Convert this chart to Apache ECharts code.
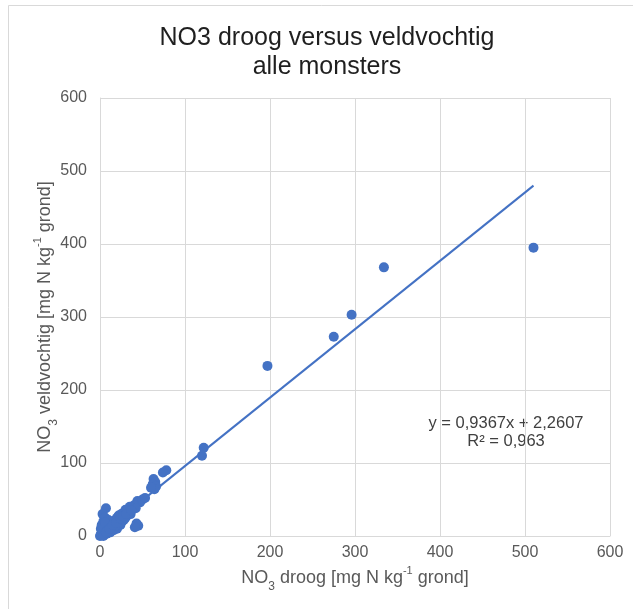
<!DOCTYPE html>
<html>
<head>
<meta charset="utf-8">
<script src="https://cdn.jsdelivr.net/npm/echarts@6/dist/echarts.min.js"></script>
<style>
html,body{margin:0;padding:0;background:#fff;}
#chart{width:633px;height:609px;}
</style>
</head>
<body>
<div id="chart"></div>
<script>
// ---- data ----
var titleText = 'NO3 droog versus veldvochtig\nalle monsters';
var xTicks = [0, 100, 200, 300, 400, 500, 600];
var yTicks = [0, 100, 200, 300, 400, 500, 600];
var droog = [510, 334, 296, 275, 197, 122, 120, 78, 74, 63, 65, 62, 66, 64, 60, 47, 44, 43, 45, 41, 7, 3,
  40, 38, 35, 33, 30, 28, 25, 22, 20, 18, 15, 12, 10, 8, 5, 3, 2, 1, 0, 2, 4, 6, 10, 14, 16, 20, 24, 26,
  30, 32, 36, 12, 8, 5, 2, 1, 3, 6, 9, 18, 22, 28, 35, 42, 4, 7, 11, 15, 19, 24, 27, 31, 37, 50, 53];
var veldvochtig = [395, 368, 303, 273, 233, 121, 110, 90, 87, 78, 74, 71, 68, 64, 66, 46, 48, 17, 14, 12, 38, 30,
  42, 38, 40, 35, 36, 32, 30, 28, 25, 22, 20, 18, 15, 12, 10, 8, 5, 2, 0, 15, 20, 25, 22, 12, 8, 10, 15, 20,
  25, 28, 30, 5, 3, 2, 1, 10, 14, 18, 8, 14, 18, 22, 33, 38, 0, 5, 10, 15, 18, 24, 27, 30, 35, 50, 52];
var trendSlope = 0.9367;
var trendIntercept = 2.2607;
var equationLines = ['y = 0,9367x + 2,2607', 'R² = 0,963'];

// ---- build ----
var points = droog.map(function (x, i) { return [x, veldvochtig[i]]; });
var xMaxData = Math.max.apply(null, droog);
var xMinData = Math.min.apply(null, droog);
var trend = [xMinData, xMaxData].map(function (x) { return [x, trendSlope * x + trendIntercept]; });

var blue = '#4472C4';
var grey = '#d9d9d9';
var labelCol = '#595959';
var font = 'Liberation Sans, Arial, sans-serif';

var nameRich = {
  n: { fontSize: 18, color: labelCol, fontFamily: font, lineHeight: 22, verticalAlign: 'middle' },
  sub: { fontSize: 12, color: labelCol, fontFamily: font, lineHeight: 22, verticalAlign: 'bottom', padding: [0, 0, -4, 0] },
  sup: { fontSize: 11, color: labelCol, fontFamily: font, lineHeight: 22, verticalAlign: 'top', padding: [-2, 0, 0, 0] }
};

var chart = echarts.init(document.getElementById('chart'), null, { renderer: 'canvas' });
chart.setOption({
  backgroundColor: '#fff',
  animation: false,
  grid: { left: 100, right: 23, top: 98, bottom: 73 },
  xAxis: {
    type: 'value', min: xTicks[0], max: xTicks[xTicks.length - 1], interval: xTicks[1] - xTicks[0],
    name: '{n|NO}{sub|3}{n| droog [mg N kg}{sup|-1}{n| grond]}',
    nameLocation: 'middle', nameGap: 31, nameMoveOverlap: false,
    nameTextStyle: { rich: nameRich },
    axisLine: { show: true, lineStyle: { color: grey } },
    axisTick: { show: false },
    axisLabel: { color: labelCol, fontSize: 16, fontFamily: font, margin: 9 },
    splitLine: { show: true, lineStyle: { color: grey, width: 1 } }
  },
  yAxis: {
    type: 'value', min: yTicks[0], max: yTicks[yTicks.length - 1], interval: yTicks[1] - yTicks[0],
    name: '{n|NO}{sub|3}{n| veldvochtig [mg N kg}{sup|-1}{n| grond]}',
    nameLocation: 'middle', nameGap: 44, nameRotate: 90, nameMoveOverlap: false,
    nameTextStyle: { rich: nameRich },
    axisLine: { show: true, lineStyle: { color: grey } },
    axisTick: { show: false },
    axisLabel: { color: labelCol, fontSize: 16, fontFamily: font, margin: 13 },
    splitLine: { show: true, lineStyle: { color: grey, width: 1 } }
  },
  graphic: [
    { type: 'rect', left: 6, top: 3, shape: { width: 700, height: 700 }, style: { fill: 'none', stroke: '#d9d9d9', lineWidth: 1 }, silent: true },
    { type: 'text', x: 327, y: 24, style: { text: titleText, fill: '#1f1f1f', font: '25px ' + font, lineHeight: 29, textAlign: 'center', textVerticalAlign: 'top' } },
    { type: 'text', x: 506, y: 414, style: { text: equationLines.join('\n'), fill: '#404040', font: '16.5px ' + font, lineHeight: 18, textAlign: 'center', textVerticalAlign: 'top' } }
  ],
  series: [
    {
      type: 'scatter', data: points, symbol: 'circle', symbolSize: 10,
      itemStyle: { color: blue, opacity: 1 }, z: 3
    },
    {
      type: 'line', data: trend, showSymbol: false, symbol: 'none',
      lineStyle: { color: blue, width: 2 }, z: 2
    }
  ]
});
</script>
</body>
</html>
